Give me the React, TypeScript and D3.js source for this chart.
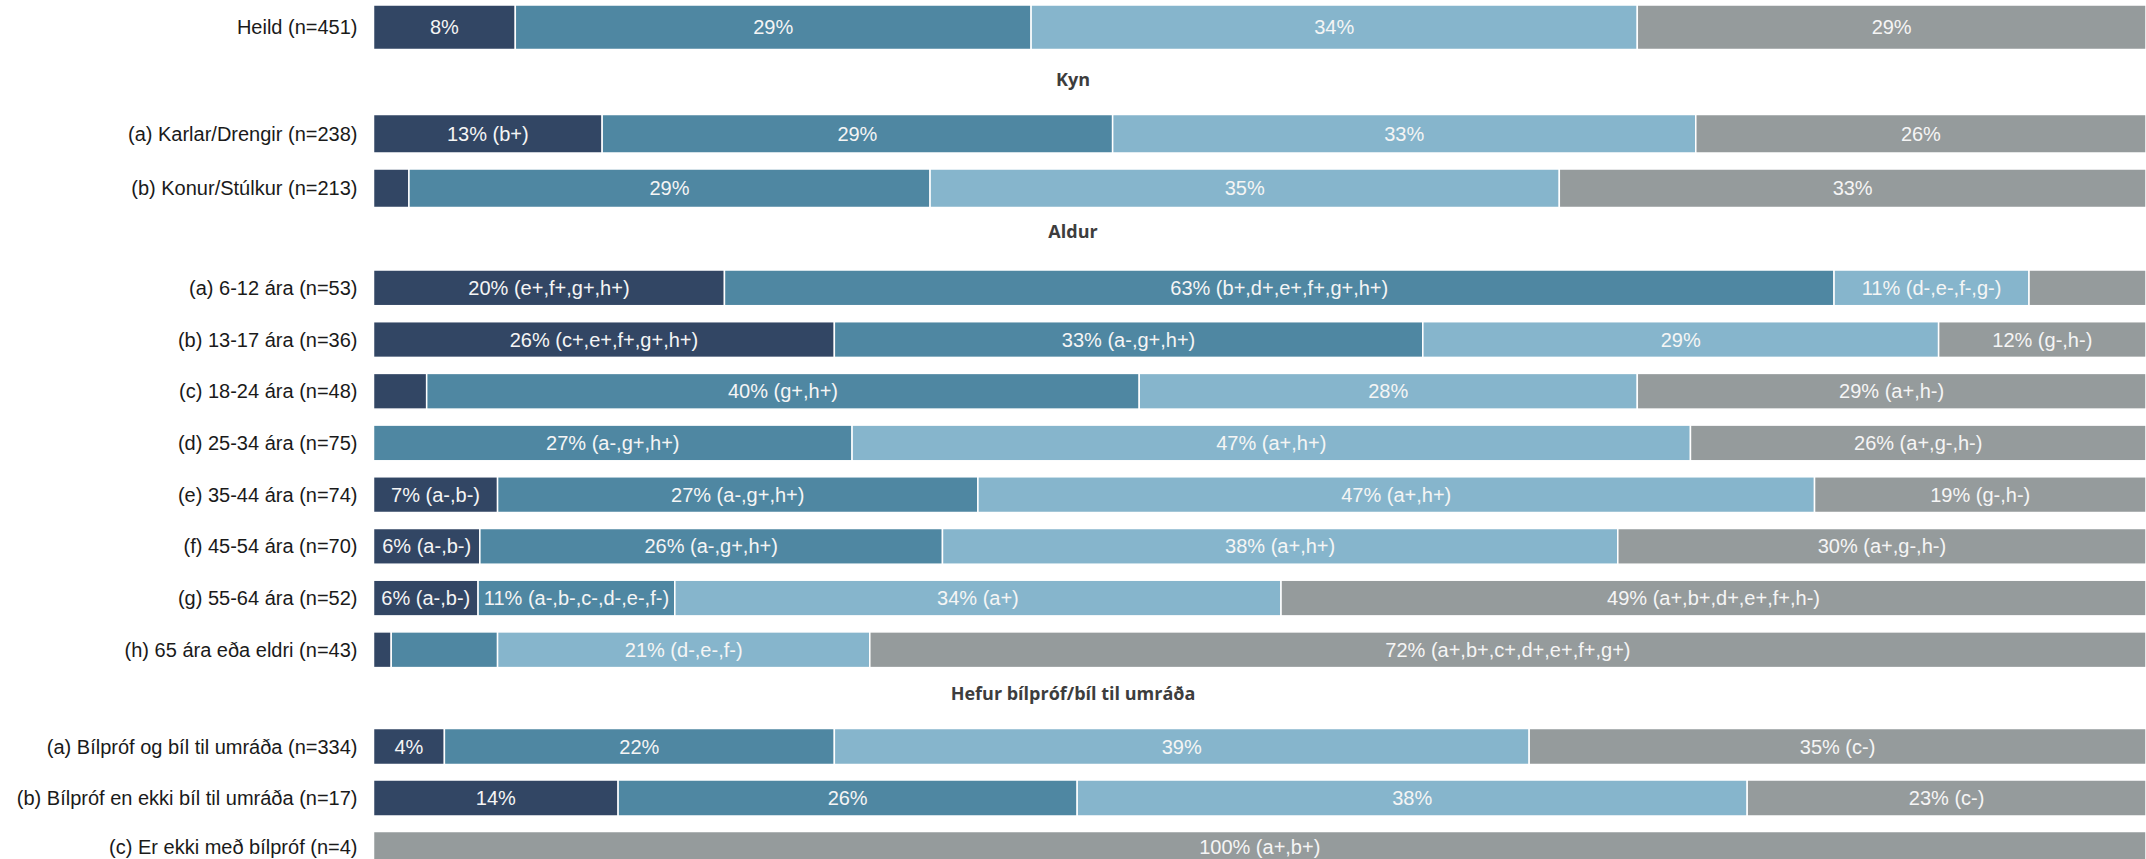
import React from "react";
import * as d3 from "d3";

// ---------- data ----------
const groupTitles = ["", "Kyn", "Aldur", "Hefur bílpróf/bíl til umráða"];

const categories = [
  "Heild (n=451)",
  "(a) Karlar/Drengir (n=238)",
  "(b) Konur/Stúlkur (n=213)",
  "(a) 6-12 ára (n=53)",
  "(b) 13-17 ára (n=36)",
  "(c) 18-24 ára (n=48)",
  "(d) 25-34 ára (n=75)",
  "(e) 35-44 ára (n=74)",
  "(f) 45-54 ára (n=70)",
  "(g) 55-64 ára (n=52)",
  "(h) 65 ára eða eldri (n=43)",
  "(a) Bílpróf og bíl til umráða (n=334)",
  "(b) Bílpróf en ekki bíl til umráða (n=17)",
  "(c) Er ekki með bílpróf (n=4)",
];

// group index of each category
const categoryGroup = [0, 1, 1, 2, 2, 2, 2, 2, 2, 2, 2, 3, 3, 3];

const series1 = [8.0, 12.9, 2.0, 19.8, 26.0, 3.0, 0, 7.0, 6.0, 5.9, 1.0, 4.0, 13.8, 0];
const series2 = [29.1, 28.8, 29.4, 62.6, 33.2, 40.2, 27.0, 27.1, 26.1, 11.1, 6.0, 22.0, 25.9, 0];
const series3 = [34.2, 32.9, 35.5, 11.0, 29.1, 28.1, 47.3, 47.2, 38.1, 34.2, 21.0, 39.2, 37.8, 0];
const series4 = [28.7, 25.4, 33.1, 6.6, 11.7, 28.7, 25.7, 18.7, 29.8, 48.8, 72.0, 34.8, 22.5, 100];

const labels1 = ["8%", "13% (b+)", "", "20% (e+,f+,g+,h+)", "26% (c+,e+,f+,g+,h+)", "", "", "7% (a-,b-)", "6% (a-,b-)", "6% (a-,b-)", "", "4%", "14%", ""];
const labels2 = ["29%", "29%", "29%", "63% (b+,d+,e+,f+,g+,h+)", "33% (a-,g+,h+)", "40% (g+,h+)", "27% (a-,g+,h+)", "27% (a-,g+,h+)", "26% (a-,g+,h+)", "11% (a-,b-,c-,d-,e-,f-)", "", "22%", "26%", ""];
const labels3 = ["34%", "33%", "35%", "11% (d-,e-,f-,g-)", "29%", "28%", "47% (a+,h+)", "47% (a+,h+)", "38% (a+,h+)", "34% (a+)", "21% (d-,e-,f-)", "39%", "38%", ""];
const labels4 = ["29%", "26%", "33%", "", "12% (g-,h-)", "29% (a+,h-)", "26% (a+,g-,h-)", "19% (g-,h-)", "30% (a+,g-,h-)", "49% (a+,b+,d+,e+,f+,h-)", "72% (a+,b+,c+,d+,e+,f+,g+)", "35% (c-)", "23% (c-)", "100% (a+,b+)"];

const seriesColors = ["#324664", "#4f87a2", "#86b5cc", "#959b9c"];

// ---------- layout ----------
const W = 2146;
const H = 859;
const X0 = 373.5;
const X1 = 2146;
// per group: first bar top, step, bar height, title baseline
const groupLayout = [
  { top: 5, step: 52, barH: 44.5, titleY: 0 },
  { top: 114.5, step: 54.5, barH: 38.5, titleY: 86 },
  { top: 270, step: 51.7, barH: 35.7, titleY: 238 },
  { top: 728.5, step: 51.5, barH: 36, titleY: 700 },
];

export default function App() {
  const x = d3.scaleLinear().domain([0, 100]).range([X0, X1]);
  const allSeries = [series1, series2, series3, series4];
  const allLabels = [labels1, labels2, labels3, labels4];

  const groupScales = groupLayout.map((g, gi) => {
    const rows = categories.filter((_, i) => categoryGroup[i] === gi);
    const gap = g.step - g.barH;
    const p = gap / g.step;
    return d3
      .scaleBand<string>()
      .domain(rows)
      .range([g.top - gap / 2, g.top - gap / 2 + rows.length * g.step])
      .paddingInner(p)
      .paddingOuter(p / 2);
  });

  const rows = categories.map((cat, i) => {
    const sc = groupScales[categoryGroup[i]];
    const top = sc(cat) as number;
    const h = sc.bandwidth();
    const cy = Math.min(top + h / 2, H - 12);
    const stack = d3.cumsum(allSeries.map((s) => s[i]));
    const segs = allSeries.map((s, k) => {
      const start = k === 0 ? 0 : stack[k - 1];
      return { k, start, end: start + s[i], label: allLabels[k][i] };
    });
    return { cat, top, h, cy, segs };
  });

  return (
    <svg
      width={W}
      height={H}
      style={{ position: "absolute", left: 0, top: 0, background: "#fff" }}
      fontFamily="'Liberation Sans', Arial, sans-serif"
    >
      {groupTitles.map((t, gi) =>
        t ? (
          <text
            key={"t" + gi}
            x={W / 2}
            y={groupLayout[gi].titleY}
            textAnchor="middle"
            fontFamily="'Open Sans', sans-serif"
            fontWeight={700}
            fontSize={18}
            fill="#3d3d3d"
          >
            {t}
          </text>
        ) : null
      )}
      {rows.map((r, i) => (
        <g key={"r" + i}>
          <text
            x={X0 - 16}
            y={r.cy}
            dy="0.35em"
            textAnchor="end"
            fontSize={20}
            fill="#1a1a1a"
          >
            {r.cat}
          </text>
          {r.segs.map((s) =>
            s.end - s.start > 0 ? (
              <rect
                key={"s" + s.k}
                x={x(s.start)}
                y={r.top}
                width={x(s.end) - x(s.start)}
                height={r.h}
                fill={seriesColors[s.k]}
                stroke="#ffffff"
                strokeWidth={1.5}
              />
            ) : null
          )}
          {r.segs.map((s) =>
            s.label ? (
              <text
                key={"l" + s.k}
                x={(x(s.start) + x(s.end)) / 2}
                y={r.cy}
                dy="0.35em"
                textAnchor="middle"
                fontSize={20}
                fill="#f5f5f5"
              >
                {s.label}
              </text>
            ) : null
          )}
        </g>
      ))}
    </svg>
  );
}
